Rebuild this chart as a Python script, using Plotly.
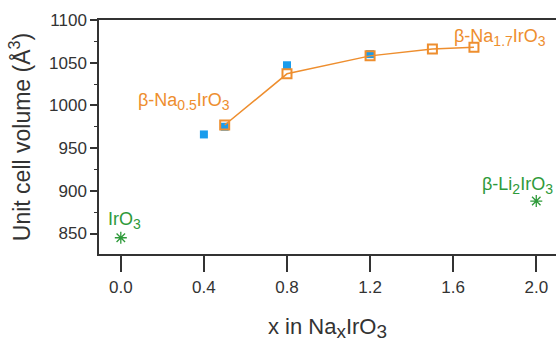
import plotly.graph_objects as go

# Data
x_orange = [0.5, 0.8, 1.2, 1.5, 1.7]
y_orange = [977, 1037, 1058, 1066, 1068]
x_blue = [0.4, 0.5, 0.8, 1.2]
y_blue = [966, 975, 1047, 1060]
x_green = [0.0, 2.0]
y_green = [845, 888]

x_ticks = [0.0, 0.4, 0.8, 1.2, 1.6, 2.0]
x_ticklabels = ["0.0", "0.4", "0.8", "1.2", "1.6", "2.0"]
y_ticks = [850, 900, 950, 1000, 1050, 1100]

ORANGE = "#EE8E2E"
BLUE = "#1A9CEC"
GREEN = "#2E9A3A"
FONT = "Liberation Sans, Arial, sans-serif"

fig = go.Figure()
fig.add_trace(go.Scatter(x=x_blue, y=y_blue, mode="markers",
                         marker=dict(symbol="square", size=8, color=BLUE, line=dict(width=0)),
                         showlegend=False))
fig.add_trace(go.Scatter(x=x_orange, y=y_orange, mode="lines+markers",
                         line=dict(color=ORANGE, width=1.5),
                         marker=dict(symbol="square-open", size=9, color=ORANGE, line=dict(width=2, color=ORANGE)),
                         showlegend=False))
fig.add_trace(go.Scatter(x=x_green, y=y_green, mode="markers",
                         marker=dict(symbol="asterisk-open", size=10, color=GREEN, line=dict(width=1.3, color=GREEN)),
                         showlegend=False))

ann_font = dict(family=FONT, size=18)
def sub(s, px=14):
    return '<sub><span style="font-size:%dpx">' % px + s + '</span></sub>'

fig.add_annotation(x=0.306, y=1004, xref="x", yref="y", showarrow=False,
                   text="β-Na" + sub("0.5") + "IrO" + sub("3"), font=dict(color=ORANGE, **ann_font))
fig.add_annotation(x=1.826, y=1080, xref="x", yref="y", showarrow=False,
                   text="β-Na" + sub("1.7") + "IrO" + sub("3"), font=dict(color=ORANGE, **ann_font))
fig.add_annotation(x=0.02, y=865, xref="x", yref="y", showarrow=False,
                   text="IrO" + sub("3"), font=dict(color=GREEN, **ann_font))
fig.add_annotation(x=1.91, y=906, xref="x", yref="y", showarrow=False,
                   text="β-Li" + sub("2") + "IrO" + sub("3"), font=dict(color=GREEN, **ann_font))

fig.update_layout(
    width=556, height=344,
    margin=dict(l=99, r=0, t=20, b=90),
    paper_bgcolor="white", plot_bgcolor="white",
    font=dict(family=FONT, size=17, color="#222222"),
)
fig.update_xaxes(range=[-0.105, 2.095], tickvals=x_ticks, ticktext=x_ticklabels,
                 showgrid=False, zeroline=False, showline=True, linecolor="#333333", linewidth=1.5,
                 mirror=True, ticks="outside", ticklen=16, tickwidth=1.5, tickcolor="#333333",
                 ticklabelstandoff=1,
                 tickfont=dict(size=17, color="#333333"),
                 title=dict(text="x in Na" + sub("x", 19) + "IrO" + sub("3", 19),
                            font=dict(size=22, color="#333333"), standoff=22))
fig.update_yaxes(range=[826, 1100], tickvals=y_ticks,
                 showgrid=False, zeroline=False, showline=True, linecolor="#333333", linewidth=1.5,
                 ticks="outside", ticklen=7, tickwidth=1.5, tickcolor="#333333",
                 minor=dict(dtick=25, tick0=825, ticks="outside", ticklen=3, tickwidth=1.2, tickcolor="#333333"),
                 tickfont=dict(size=17, color="#333333"),
                 title=dict(text="Unit cell volume (Å<sup>3</sup>)", font=dict(size=23, color="#333333"), standoff=12))

fig.write_html("out.html")
